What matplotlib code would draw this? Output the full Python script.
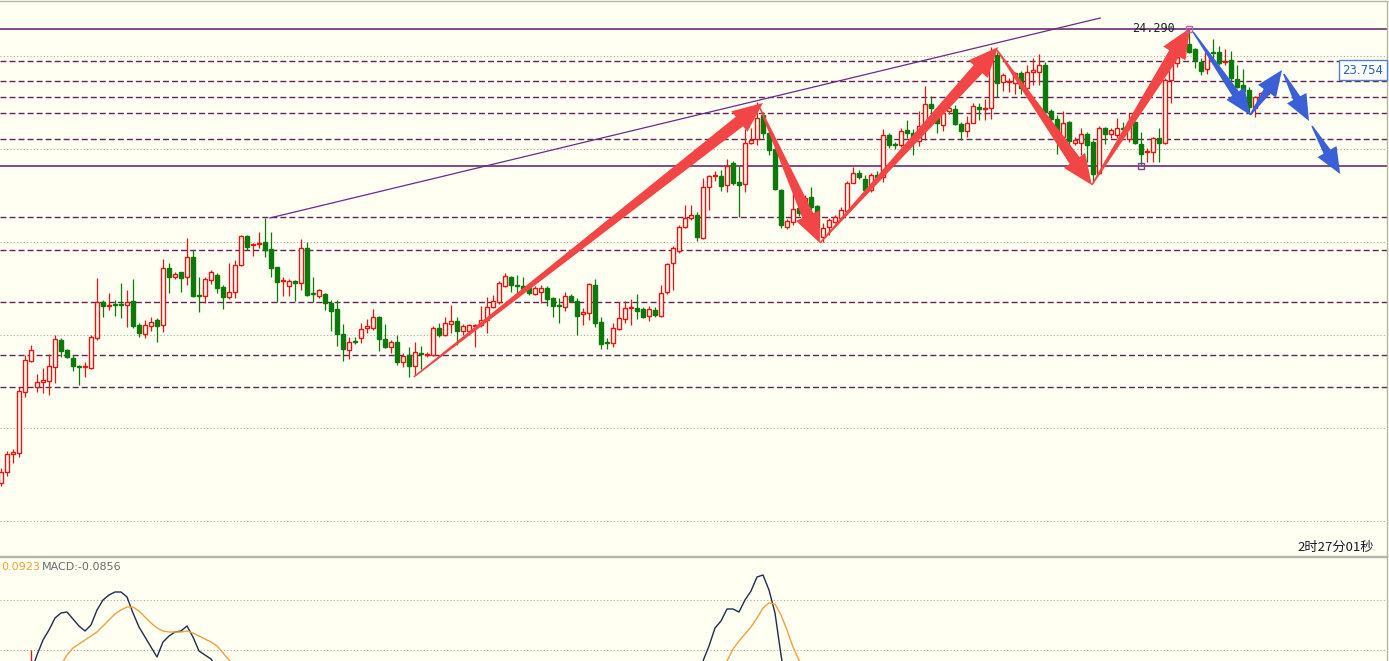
import numpy as np
import matplotlib
matplotlib.use('Agg')
import matplotlib.pyplot as plt
from matplotlib.patches import Polygon

# 蜡烛图数据 (开, 高, 低, 收)
opens = [19.75, 19.86, 20.04, 20.05, 20.66, 20.97, 20.71, 20.76, 20.77, 20.91,
         21.18, 21.08, 21.00, 20.92, 20.91, 20.90, 21.20, 21.56, 21.52, 21.54,
         21.54, 21.53, 21.57, 21.33, 21.24, 21.32, 21.38, 21.33, 21.90, 21.81,
         21.86, 21.81, 22.01, 21.63, 21.62, 21.78, 21.83, 21.71, 21.61, 21.66,
         21.93, 22.22, 22.13, 22.14, 22.16, 22.09, 21.91, 21.77, 21.72, 21.77,
         21.75, 22.10, 21.65, 21.62, 21.64, 21.55, 21.49, 21.24, 21.08, 21.17,
         21.20, 21.30, 21.30, 21.41, 21.19, 21.11, 21.16, 20.96, 21.03, 20.92,
         21.05, 21.03, 21.03, 21.30, 21.23, 21.34, 21.37, 21.27, 21.27, 21.32,
         21.33, 21.38, 21.51, 21.56, 21.72, 21.81, 21.73, 21.72, 21.70, 21.64,
         21.66, 21.70, 21.60, 21.53, 21.51, 21.62, 21.57, 21.44, 21.45, 21.73,
         21.36, 21.16, 21.15, 21.29, 21.39, 21.50, 21.50, 21.49, 21.42, 21.48,
         21.42, 21.66, 21.95, 22.07, 22.31, 22.40, 22.43, 22.20, 22.71, 22.82,
         22.82, 22.73, 22.95, 22.76, 22.74, 23.15, 23.19, 23.43, 23.25, 23.09,
         22.68, 22.31, 22.36, 22.50, 22.43, 22.61, 22.52, 22.21, 22.31, 22.36,
         22.40, 22.47, 22.75, 22.85, 22.79, 22.68, 22.83, 22.81, 23.23, 23.14,
         23.13, 23.28, 23.25, 23.17, 23.31, 23.54, 23.49, 23.33, 23.47, 23.49,
         23.34, 23.27, 23.35, 23.51, 23.49, 23.50, 24.03, 23.76, 23.76, 23.75,
         23.85, 23.70, 23.86, 23.86, 23.93, 23.47, 23.39, 23.21, 23.36, 23.15,
         23.15, 23.24, 23.16, 22.85, 23.30, 23.24, 23.23, 23.30, 23.19, 23.36,
         23.14, 23.06, 23.06, 23.20, 23.15, 23.78, 23.95, 24.01, 24.14, 24.09,
         23.96, 23.89, 24.06, 24.06, 23.96, 23.98, 23.79, 23.73, 23.68, 23.50,
         23.59, 23.64, 23.67]
highs = [19.90, 20.07, 20.09, 20.71, 21.03, 21.13, 20.84, 20.90, 21.04, 21.23,
         21.20, 21.09, 21.03, 20.93, 20.96, 21.23, 21.80, 21.58, 21.65, 21.58,
         21.75, 21.68, 21.79, 21.35, 21.38, 21.41, 21.40, 21.99, 21.95, 21.86,
         21.86, 22.20, 22.08, 21.81, 21.81, 21.88, 21.85, 21.73, 21.95, 21.98,
         22.23, 22.23, 22.15, 22.26, 22.40, 22.26, 21.91, 21.81, 21.79, 21.78,
         22.19, 22.16, 21.81, 21.69, 21.65, 21.58, 21.58, 21.34, 21.21, 21.21,
         21.35, 21.39, 21.49, 21.42, 21.34, 21.18, 21.23, 21.05, 21.11, 21.16,
         21.12, 21.06, 21.32, 21.35, 21.41, 21.53, 21.41, 21.34, 21.34, 21.34,
         21.52, 21.61, 21.63, 21.77, 21.85, 21.82, 21.83, 21.81, 21.71, 21.72,
         21.73, 21.72, 21.61, 21.60, 21.66, 21.64, 21.60, 21.50, 21.75, 21.79,
         21.41, 21.20, 21.35, 21.56, 21.57, 21.59, 21.64, 21.51, 21.52, 21.51,
         21.73, 21.95, 22.12, 22.33, 22.53, 22.53, 22.46, 22.80, 22.83, 22.87,
         22.88, 22.99, 22.97, 22.92, 23.29, 23.30, 23.56, 23.46, 23.26, 23.11,
         22.69, 22.39, 22.66, 22.59, 22.63, 22.71, 22.53, 22.35, 22.40, 22.43,
         22.51, 22.77, 22.91, 22.88, 22.83, 22.85, 22.87, 23.29, 23.25, 23.16,
         23.30, 23.38, 23.29, 23.47, 23.72, 23.62, 23.50, 23.51, 23.55, 23.53,
         23.36, 23.42, 23.55, 23.55, 23.59, 24.11, 24.06, 23.85, 23.80, 23.86,
         23.87, 23.93, 24.00, 24.04, 23.96, 23.49, 23.43, 23.47, 23.37, 23.21,
         23.30, 23.26, 23.18, 23.32, 23.31, 23.30, 23.40, 23.36, 23.45, 23.37,
         23.26, 23.10, 23.21, 23.30, 23.80, 23.96, 24.03, 24.20, 24.29, 24.10,
         24.00, 24.06, 24.19, 24.12, 24.09, 24.07, 23.93, 23.89, 23.71, 23.62,
         23.66, 23.72, 23.76]
lows = [19.72, 19.82, 19.95, 20.01, 20.61, 20.96, 20.66, 20.65, 20.63, 20.75,
        21.01, 21.00, 20.87, 20.73, 20.81, 20.89, 21.18, 21.41, 21.48, 21.42,
        21.40, 21.31, 21.30, 21.21, 21.20, 21.27, 21.16, 21.26, 21.65, 21.79,
        21.66, 21.73, 21.61, 21.46, 21.55, 21.74, 21.65, 21.49, 21.59, 21.60,
        21.92, 22.08, 22.02, 22.10, 22.01, 21.81, 21.56, 21.62, 21.62, 21.57,
        21.68, 21.62, 21.56, 21.60, 21.48, 21.27, 21.12, 20.97, 20.99, 21.14,
        21.15, 21.25, 21.28, 21.07, 21.10, 21.05, 20.93, 20.91, 20.81, 20.83,
        20.89, 21.01, 21.02, 21.21, 21.22, 21.25, 21.13, 21.23, 21.23, 21.11,
        21.31, 21.25, 21.50, 21.54, 21.71, 21.66, 21.65, 21.67, 21.63, 21.63,
        21.55, 21.52, 21.41, 21.35, 21.47, 21.56, 21.23, 21.33, 21.38, 21.31,
        21.09, 21.09, 21.11, 21.28, 21.35, 21.33, 21.39, 21.40, 21.37, 21.41,
        21.41, 21.64, 21.68, 22.05, 22.30, 22.38, 22.17, 22.19, 22.48, 22.77,
        22.67, 22.66, 22.73, 22.41, 22.66, 23.14, 23.13, 23.20, 23.03, 22.68,
        22.30, 22.29, 22.33, 22.42, 22.42, 22.48, 22.26, 22.16, 22.23, 22.35,
        22.38, 22.45, 22.75, 22.79, 22.65, 22.66, 22.79, 22.76, 23.10, 23.09,
        23.11, 23.20, 23.03, 23.12, 23.18, 23.45, 23.25, 23.27, 23.44, 23.33,
        23.18, 23.21, 23.35, 23.38, 23.38, 23.39, 23.61, 23.67, 23.66, 23.64,
        23.64, 23.68, 23.73, 23.73, 23.45, 23.33, 23.04, 23.20, 23.12, 23.13,
        23.03, 22.96, 22.75, 22.84, 23.14, 23.20, 23.20, 23.21, 23.16, 23.14,
        22.93, 22.96, 22.96, 22.96, 23.14, 23.55, 23.91, 24.01, 24.05, 23.90,
        23.83, 23.84, 23.95, 23.93, 23.93, 23.77, 23.70, 23.63, 23.46, 23.41,
        23.56, 23.62, 23.66]
closes = [19.86, 20.04, 20.06, 20.67, 20.98, 21.08, 20.76, 20.78, 20.92, 21.19,
          21.07, 21.01, 20.92, 20.91, 20.92, 21.21, 21.56, 21.52, 21.53, 21.53,
          21.53, 21.56, 21.32, 21.25, 21.33, 21.36, 21.32, 21.90, 21.81, 21.84,
          21.80, 22.01, 21.62, 21.62, 21.79, 21.86, 21.70, 21.61, 21.66, 21.93,
          22.22, 22.11, 22.14, 22.15, 22.08, 21.90, 21.76, 21.78, 21.77, 21.75,
          22.10, 21.63, 21.64, 21.68, 21.55, 21.47, 21.24, 21.09, 21.16, 21.16,
          21.29, 21.32, 21.41, 21.19, 21.11, 21.16, 20.96, 21.02, 20.92, 21.06,
          21.04, 21.04, 21.30, 21.23, 21.35, 21.37, 21.27, 21.32, 21.33, 21.33,
          21.38, 21.51, 21.57, 21.75, 21.82, 21.73, 21.72, 21.69, 21.65, 21.70,
          21.70, 21.59, 21.52, 21.52, 21.62, 21.57, 21.42, 21.46, 21.74, 21.35,
          21.14, 21.15, 21.30, 21.40, 21.50, 21.51, 21.47, 21.41, 21.49, 21.43,
          21.65, 21.94, 22.10, 22.31, 22.40, 22.43, 22.21, 22.71, 22.82, 22.83,
          22.72, 22.92, 22.75, 22.73, 23.15, 23.18, 23.40, 23.25, 23.08, 22.69,
          22.33, 22.37, 22.49, 22.45, 22.60, 22.51, 22.31, 22.30, 22.38, 22.41,
          22.48, 22.75, 22.85, 22.81, 22.68, 22.83, 22.81, 23.23, 23.13, 23.13,
          23.27, 23.25, 23.18, 23.32, 23.54, 23.50, 23.35, 23.45, 23.50, 23.34,
          23.27, 23.35, 23.52, 23.49, 23.50, 24.03, 23.75, 23.83, 23.77, 23.85,
          23.70, 23.86, 23.88, 23.93, 23.46, 23.39, 23.18, 23.35, 23.17, 23.18,
          23.24, 23.13, 22.84, 23.30, 23.24, 23.28, 23.30, 23.29, 23.36, 23.15,
          23.04, 23.07, 23.20, 23.15, 23.78, 23.95, 24.01, 24.15, 24.06, 23.98,
          23.87, 24.05, 24.05, 23.95, 23.97, 23.80, 23.71, 23.67, 23.51, 23.61,
          23.65, 23.70, 23.71]

# 水平线
solid_levels = [24.29, 22.92]
dashed_levels = [23.97, 23.77, 23.61, 23.45, 23.19, 22.41, 22.08, 21.56, 21.03, 20.71]
grid_levels = [24.02, 23.09, 22.16, 21.23, 20.30, 19.37]

# 趋势线
trend_x = [44.8, 183.2]
trend_y = [22.40, 24.40]

# 箭头 (起点, 终点)
arrow_x0 = [68.8, 126.5, 136.5, 166.0, 181.8, 198.7, 208.2, 213.8, 218.5]
arrow_y0 = [20.81, 23.50, 22.15, 24.08, 22.73, 24.26, 23.43, 23.84, 23.32]
arrow_x1 = [127.0, 136.5, 166.2, 181.8, 198.2, 208.2, 213.5, 218.0, 223.2]
arrow_y1 = [23.55, 22.15, 24.11, 22.73, 24.30, 23.43, 23.88, 23.37, 22.84]
arrow_blue = [False, False, False, False, False, True, True, True, True]

# MACD 可见部分
macd_idx1 = list(range(5, 37))
macd_val1 = [-0.088, -0.020, 0.040, 0.080, 0.128, 0.148, 0.152, 0.124, 0.096, 0.076,
             0.100, 0.160, 0.200, 0.220, 0.232, 0.232, 0.212, 0.148, 0.092, 0.052,
             0.012, -0.028, 0.032, 0.056, 0.072, 0.076, 0.096, 0.052, -0.004, -0.020,
             -0.036, -0.072]
sig_idx1 = list(range(10, 40))
sig_val1 = [-0.060, -0.020, 0.008, 0.024, 0.040, 0.056, 0.072, 0.096, 0.120, 0.144,
            0.160, 0.172, 0.172, 0.156, 0.132, 0.108, 0.088, 0.076, 0.072, 0.072,
            0.072, 0.076, 0.068, 0.056, 0.044, 0.032, 0.016, -0.012, -0.040, -0.072]
macd_idx2 = list(range(116, 132))
macd_val2 = [-0.120, -0.044, 0.016, 0.088, 0.116, 0.164, 0.164, 0.152, 0.200, 0.236,
             0.292, 0.300, 0.240, 0.148, -0.020, -0.160]
sig_idx2 = list(range(120, 135))
sig_val2 = [-0.088, -0.044, 0.004, 0.036, 0.064, 0.092, 0.128, 0.168, 0.188, 0.184,
            0.140, 0.080, 0.012, -0.040, -0.088]
hist_idx = [5]
hist_val = [-0.05]

BG = '#fffff2'
RED = '#e81414'
GREEN = '#0b7a0b'
BORDER = '#b4b4aa'


def tapered_arrow(ax, x0, y0, x1, y1, color, w0, w1, hw, hl):
    # 在屏幕坐标里画渐粗的箭头
    p0 = ax.transData.transform((x0, y0))
    p1 = ax.transData.transform((x1, y1))
    d = p1 - p0
    u = d / np.hypot(d[0], d[1])
    n = np.array([-u[1], u[0]])
    b = p1 - u * hl
    pts = [p0 + n * w0 / 2, b + n * w1 / 2, b + n * hw / 2, p1,
           b - n * hw / 2, b - n * w1 / 2, p0 - n * w0 / 2]
    pts = ax.transData.inverted().transform(pts)
    ax.add_patch(Polygon(pts, closed=True, fc=color, ec='none', zorder=6))


fig = plt.figure(figsize=(13.89, 6.61), dpi=100, facecolor=BG)
W, H = 1389.0, 661.0
ax = fig.add_axes([0, 105 / H, 1387 / W, 555 / H], facecolor=BG)
ax2 = fig.add_axes([0, 0, 1387 / W, 104 / H], facecolor=BG)

for a in (ax, ax2):
    a.set_xlim(-1 / 6, 231.0)
    a.set_xticks([])
    a.set_yticks([])
    for s in a.spines.values():
        s.set_color(BORDER)
        s.set_linewidth(1)
    a.spines['left'].set_visible(False)
ax2.spines['bottom'].set_visible(False)
ax.set_ylim(19.02, 24.57)
ax2.set_ylim(-0.044, 0.372)

# 网格和水平线
for lv in grid_levels:
    ax.axhline(lv, color='#a9a9a0', lw=0.8, ls=(0, (1, 2)), zorder=1)
for lv in dashed_levels:
    ax.axhline(lv, color='#5c2458', lw=1.0, ls=(0, (4.3, 2.2)), zorder=1)
for lv in solid_levels:
    ax.axhline(lv, color='#5e1a66', lw=1.1, zorder=1)
ax.plot(trend_x, trend_y, color='#6a2a8a', lw=0.9, zorder=2)

# 蜡烛
idx = np.arange(len(opens))
o = np.array(opens)
c = np.array(closes)
up = c >= o
cols = np.where(up, RED, GREEN)
ax.vlines(idx, lows, highs, colors=cols, lw=0.9, zorder=3)
bottom = np.minimum(o, c)
height = np.maximum(np.abs(c - o), 0.004)
ax.bar(idx[up], height[up], bottom=bottom[up], width=0.64,
       facecolor=BG, edgecolor=RED, linewidth=1.0, zorder=4)
ax.bar(idx[~up], height[~up], bottom=bottom[~up], width=0.64,
       facecolor=GREEN, edgecolor=GREEN, linewidth=1.0, zorder=4)

# 高低点标记
ax.plot([198], [24.29], marker='s', ms=5, mfc='none', mec='#c060b0', mew=1, zorder=7)
ax.plot([190], [22.92], marker='s', ms=5, mfc='none', mec='#804090', mew=1, zorder=7)

# 箭头
for x0, y0, x1, y1, blue in zip(arrow_x0, arrow_y0, arrow_x1, arrow_y1, arrow_blue):
    if blue:
        tapered_arrow(ax, x0, y0, x1, y1, '#3b5fd6', 1.5, 8, 22, 26)
    else:
        tapered_arrow(ax, x0, y0, x1, y1, '#f24646', 1.5, 12, 26, 30)

# 价格文字
ax.text(195.7, 24.29, '24.290', ha='right', va='center', fontsize=8.5,
        family='DejaVu Sans Mono', color='#1a2030', zorder=8)
ax.text(230.4, 23.88, '23.754', ha='right', va='center', fontsize=8.5, color='#2060c0',
        zorder=8, bbox=dict(boxstyle='square,pad=0.28', fc='white', ec='#5080d0', lw=1))
fig.text(1374 / W, 1 - 547 / H, '2时27分01秒', ha='right', va='center', fontsize=9.5,
         family=['Noto Sans CJK SC', 'DejaVu Sans'], color='#1a1a2e')

# MACD 副图
for lv in [0.2, 0.0]:
    ax2.axhline(lv, color='#a9a9a0', lw=0.8, ls=(0, (1, 2)), zorder=1)
ax2.vlines(hist_idx, 0, hist_val, colors=RED, lw=1, zorder=2)
ax2.plot(macd_idx1, macd_val1, color='#1c2c4c', lw=1, zorder=3)
ax2.plot(macd_idx2, macd_val2, color='#1c2c4c', lw=1, zorder=3)
ax2.plot(sig_idx1, sig_val1, color='#f0a040', lw=1, zorder=3)
ax2.plot(sig_idx2, sig_val2, color='#f0a040', lw=1, zorder=3)
fig.text(1 / W, 1 - 567 / H, '0.0923', ha='left', va='center', fontsize=8, color='#f0a030')
fig.text(42 / W, 1 - 567 / H, 'MACD:-0.0856', ha='left', va='center', fontsize=8, color='#6a6a6a')

fig.savefig('out.png', dpi=100, facecolor=BG)
